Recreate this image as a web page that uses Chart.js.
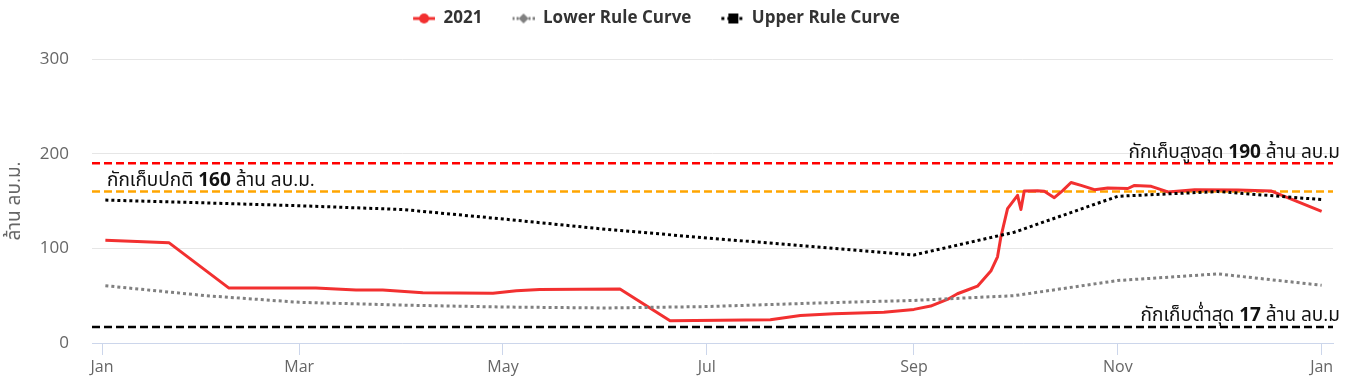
<!DOCTYPE html>
<html><head><meta charset="utf-8">
<script src="https://cdn.jsdelivr.net/npm/chart.js@4.4.1/dist/chart.umd.min.js"></script>
<style>html,body{margin:0;padding:0;background:#fff}#wrap{width:1346px;height:384px}</style>
</head><body><div id="wrap"><canvas id="c" width="1346" height="384"></canvas></div>
<script>
// ---- data ----
const tickDays = [0, 59, 120, 181, 243, 304, 365];
const tickLabels = ['Jan', 'Mar', 'May', 'Jul', 'Sep', 'Nov', 'Jan'];
const seriesNames = ['2021', 'Lower Rule Curve', 'Upper Rule Curve'];
const yAxisTitle = 'ล้าน ลบ.ม.';

const actualDays = [1, 20, 38, 64, 76, 84, 96, 117, 124, 131, 155, 170, 185, 200, 209, 219, 234, 243, 248, 253, 256, 259, 262, 266, 268, 269, 271, 274, 275, 276, 280, 282, 285, 287.5, 290, 293, 297, 301, 307, 309, 314, 319, 327, 340, 350, 365];
const actualValues = [108.5, 106, 58, 58, 56, 56, 53, 52.5, 55.2, 56.5, 57, 23.5, 24, 24.5, 29, 31, 32.5, 35.5, 39, 46, 52, 56, 60, 76, 91, 112, 142, 156, 141, 160.5, 160.7, 160.3, 153.5, 161, 169.5, 166.5, 162, 163.8, 163.2, 166.5, 165.5, 159.6, 162, 161.5, 160.5, 139];

const ruleDays = [1, 31, 59, 90, 120, 151, 181, 212, 243, 273, 304, 334, 365];
const lowerValues = [60.5, 50, 43, 40, 38, 37, 38.5, 42, 45, 50, 66, 73, 61];
const upperValues = [151, 148, 145, 141, 131, 120, 111, 102, 93, 117, 155, 160, 151.5];

const levelValues = [190, 160, 17];
const levelTexts = [
  ['กักเก็บสูงสุด ', '190', ' ล้าน ลบ.ม'],
  ['กักเก็บปกติ ', '160', ' ล้าน ลบ.ม.'],
  ['กักเก็บต่ำสุด ', '17', ' ล้าน ลบ.ม']
];

// ---- styles ----
const FONT = "'Open Sans', 'Noto Sans Thai', 'Noto Sans', Tahoma, sans-serif";
const RED = 'rgb(242,48,48)';
const levelStyle = [
  {color: '#ff0000', align: 'right'},
  {color: '#ffa500', align: 'left'},
  {color: '#000000', align: 'right'}
];

function makeSymbol(kind) {
  const c = document.createElement('canvas');
  c.width = 42; c.height = 16;
  const g = c.getContext('2d');
  const x0 = 20, x1 = 42, cy = 8, cx = 31;
  if (kind === 0) {
    g.strokeStyle = RED; g.lineWidth = 3;
    g.beginPath(); g.moveTo(x0, cy); g.lineTo(x1, cy); g.stroke();
    g.fillStyle = RED; g.beginPath(); g.arc(cx, cy, 5, 0, Math.PI * 2); g.fill();
  } else if (kind === 1) {
    g.strokeStyle = '#808080'; g.lineWidth = 3; g.setLineDash([2, 2]);
    g.beginPath(); g.moveTo(x0, cy); g.lineTo(x1, cy); g.stroke();
    g.fillStyle = '#808080'; g.beginPath();
    g.moveTo(cx, cy - 5); g.lineTo(cx + 5, cy); g.lineTo(cx, cy + 5); g.lineTo(cx - 5, cy); g.closePath(); g.fill();
  } else {
    g.strokeStyle = '#000'; g.lineWidth = 3; g.setLineDash([3, 3]);
    g.beginPath(); g.moveTo(x0, cy); g.lineTo(x1, cy); g.stroke();
    g.fillStyle = '#000'; g.fillRect(cx - 4, cy - 5, 10, 10);
  }
  return c;
}
const symbols = [makeSymbol(0), makeSymbol(1), makeSymbol(2)];

const levelPlugin = {
  id: 'levels',
  beforeLayout(chart) {
    const lg = chart.legend;
    if (lg && !lg._patched) {
      const f = lg.fit.bind(lg);
      lg.fit = function () { f(); this.height = 59; };
      lg._patched = true;
    }
  },
  afterLayout(chart) {
    const lg = chart.legend;
    if (lg) { lg.left -= 20; lg.right -= 20; }
  },
  beforeDatasetsDraw(chart) {
    const {ctx, chartArea: {left, right}, scales: {y}} = chart;
    levelValues.forEach((v, i) => {
      const py = y.getPixelForValue(v);
      ctx.save();
      ctx.strokeStyle = levelStyle[i].color;
      ctx.lineWidth = 2.5;
      ctx.setLineDash([8, 4]);
      ctx.beginPath(); ctx.moveTo(left, py); ctx.lineTo(right, py); ctx.stroke();
      ctx.restore();
    });
  },
  afterDatasetsDraw(chart) {
    const {ctx, chartArea: {left, right}, scales: {y}} = chart;
    levelValues.forEach((v, i) => {
      const py = y.getPixelForValue(v);
      const parts = levelTexts[i];
      ctx.save();
      ctx.fillStyle = '#111';
      ctx.textBaseline = 'alphabetic';
      const fonts = ['19px ' + FONT, 'bold 19px ' + FONT, '19px ' + FONT];
      const widths = parts.map((p, k) => { ctx.font = fonts[k]; return ctx.measureText(p).width; });
      const total = widths.reduce((a, b) => a + b, 0);
      let x = levelStyle[i].align === 'left' ? left + 15 : right + 7 - total;
      parts.forEach((p, k) => { ctx.font = fonts[k]; ctx.fillText(p, x, py - 5.5); x += widths[k]; });
      ctx.restore();
    });
  }
};

new Chart(document.getElementById('c'), {
  type: 'line',
  data: {
    datasets: [
      {label: seriesNames[0], data: actualDays.map((d, i) => ({x: d, y: actualValues[i]})),
       borderColor: RED, backgroundColor: RED, borderWidth: 3, pointRadius: 0, tension: 0, order: 2,
       borderJoinStyle: 'round', pointStyle: symbols[0]},
      {label: seriesNames[1], data: ruleDays.map((d, i) => ({x: d, y: lowerValues[i]})),
       borderColor: '#808080', backgroundColor: '#808080', borderWidth: 3, borderDash: [3, 3], pointRadius: 0, tension: 0, order: 1,
       pointStyle: symbols[1]},
      {label: seriesNames[2], data: ruleDays.map((d, i) => ({x: d, y: upperValues[i]})),
       borderColor: '#000', backgroundColor: '#000', borderWidth: 3, borderDash: [3, 3], pointRadius: 0, tension: 0, order: 0,
       pointStyle: symbols[2]}
    ]
  },
  options: {
    responsive: false,
    animation: false,
    devicePixelRatio: 1,
    layout: {padding: {left: 0, right: 13, top: 0, bottom: 0}},
    plugins: {
      tooltip: {enabled: false},
      legend: {
        position: 'top',
        labels: {
          usePointStyle: true, pointStyleWidth: 42, padding: 10,
          sort: (a, b) => a.datasetIndex - b.datasetIndex,
          color: '#333', font: {family: FONT, size: 17, weight: 'bold'}
        }
      }
    },
    scales: {
      x: {
        type: 'linear', min: -3, max: 368.4,
        afterBuildTicks: (s) => { s.ticks = tickDays.map(v => ({value: v})); },
        afterFit: (s) => { s.height = 41; },
        ticks: {
          autoSkip: false, maxRotation: 0, padding: 3, color: '#666',
          font: {family: FONT, size: 16},
          callback: (v) => tickLabels[tickDays.indexOf(v)]
        },
        grid: {display: true, drawOnChartArea: false, drawTicks: true, tickLength: 12, color: '#ccd6eb'},
        border: {display: true, color: '#ccd6eb'}
      },
      y: {
        min: 0, max: 300,
        afterFit: (s) => { s.width = 92; },
        ticks: {stepSize: 100, padding: 23, color: '#666', font: {family: FONT, size: 17}},
        grid: {color: '#e6e6e6', drawTicks: false},
        border: {display: false},
        title: {display: true, text: yAxisTitle, color: '#666', font: {family: FONT, size: 19}, padding: {top: 3, bottom: 0}}
      }
    }
  },
  plugins: [levelPlugin]
});
</script>
</body></html>
